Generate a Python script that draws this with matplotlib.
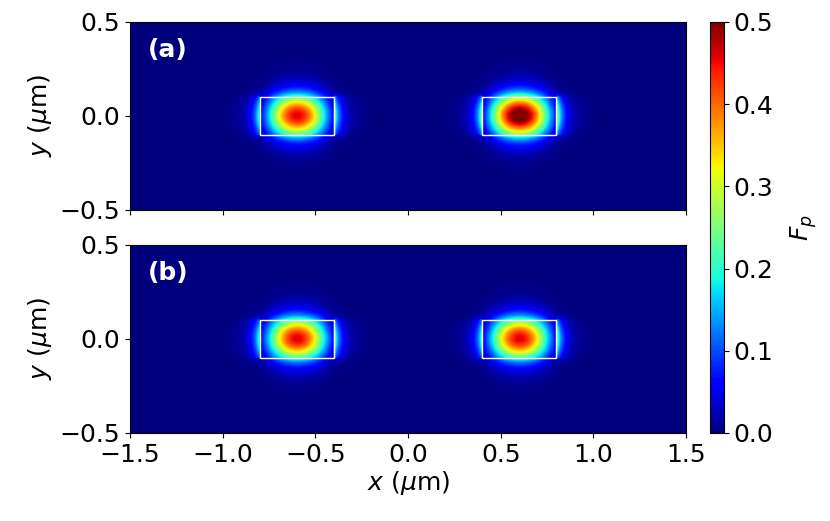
import numpy as np
import matplotlib; matplotlib.use("Agg")
import matplotlib.pyplot as plt
from matplotlib.patches import Rectangle

# waveguide geometry (um)
WG_CENTERS = [-0.6, 0.6]
WG_HALF_W = 0.2
WG_HALF_H = 0.1
# peak Purcell factor of each waveguide mode, panel (a) and (b)
PEAKS_A = [0.46, 0.53]
PEAKS_B = [0.46, 0.46]
# mode shape
LX = 0.516        # cos^2 period inside the core along x
SY = 0.12         # gaussian width along y inside the core
JUMP = 4.6        # field jump just outside the vertical core walls
FRINGE_L = 0.03   # decay of that fringe
TAIL_LX = 0.06
TAIL_LY = 0.045
PANEL_LABELS = ["(a)", "(b)"]
CBAR_TICKS = [0.0, 0.1, 0.2, 0.3, 0.4, 0.5]

x = np.linspace(-1.5, 1.5, 901)
y = np.linspace(-0.5, 0.5, 301)
X, Y = np.meshgrid(x, y)

def mode(xc, peak):
    dx = np.abs(X - xc); ay = np.abs(Y)
    gw = np.cos(np.pi * WG_HALF_W / LX) ** 2
    din = np.minimum(dx, WG_HALF_W)
    dout = np.maximum(dx - WG_HALF_W, 0)
    inside_x = dx <= WG_HALF_W
    gx_tail = np.where(inside_x, np.cos(np.pi * din / LX) ** 2, gw * np.exp(-dout / TAIL_LX))
    gx_fr = np.where(inside_x, 0, gw * (JUMP - 1) * np.exp(-dout / FRINGE_L))
    gyw = np.exp(-(WG_HALF_H / SY) ** 2)
    yout = np.maximum(ay - WG_HALF_H, 0)
    gy = np.where(ay <= WG_HALF_H, np.exp(-(ay / SY) ** 2), gyw * np.exp(-yout / TAIL_LY))
    gy_fr = gy * np.exp(-yout / 0.012)
    return peak * (gx_tail * gy + gx_fr * gy_fr)

def field(peaks):
    return sum(mode(xc, p) for xc, p in zip(WG_CENTERS, peaks))

plt.rcParams["font.size"] = 18
fig = plt.figure(figsize=(8.3, 5.21), dpi=100)
ax1 = fig.add_axes([0.1566, 0.597, 0.670, 0.361])
ax2 = fig.add_axes([0.1566, 0.169, 0.670, 0.361])
cax = fig.add_axes([0.855, 0.169, 0.0169, 0.789])

for ax, peaks, lab in zip([ax1, ax2], [PEAKS_A, PEAKS_B], PANEL_LABELS):
    im = ax.imshow(field(peaks), extent=[-1.5, 1.5, -0.5, 0.5], origin="lower",
                   cmap="jet", vmin=0, vmax=0.5, aspect="auto", interpolation="bilinear")
    for xc in WG_CENTERS:
        ax.add_patch(Rectangle((xc - WG_HALF_W, -WG_HALF_H), 2 * WG_HALF_W, 2 * WG_HALF_H,
                               fill=False, ec="white", lw=1.0))
    ax.set_xlim(-1.5, 1.5); ax.set_ylim(-0.5, 0.5)
    ax.set_yticks([-0.5, 0.0, 0.5])
    ax.set_xticks([-1.5, -1.0, -0.5, 0.0, 0.5, 1.0, 1.5])
    ax.set_ylabel(r"$y$ ($\mu$m)")
    ax.text(0.032, 0.85, lab, transform=ax.transAxes, color="white",
            fontweight="bold", fontsize=18, va="center", ha="left")

ax1.tick_params(labelbottom=False)
ax2.set_xlabel(r"$x$ ($\mu$m)", labelpad=2)

cb = fig.colorbar(im, cax=cax, ticks=CBAR_TICKS)
cb.set_label(r"$F_p$", labelpad=11)

fig.savefig("out.png", dpi=100, facecolor="white")
